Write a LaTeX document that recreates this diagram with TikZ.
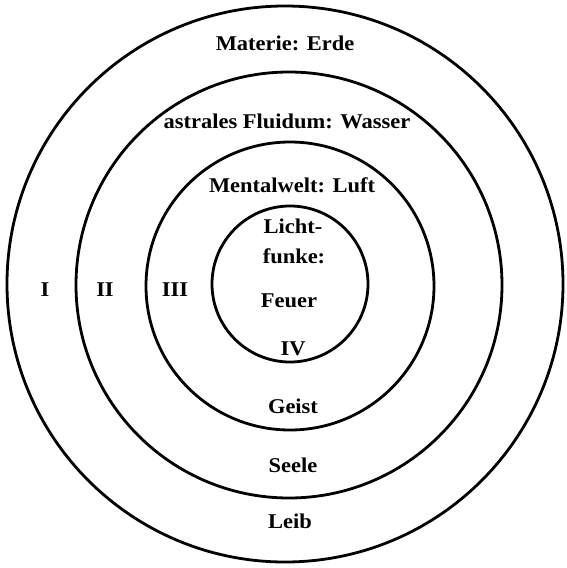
\documentclass[tikz,border=0pt]{standalone}
\usepackage{fontspec}
\setmainfont[FakeStretch=1.07]{Liberation Serif}
\begin{document}
\begin{tikzpicture}[x=1pt,y=-1pt,
  ring/.style={line width=2.8pt},
  lbl/.style={anchor=base,inner sep=0pt,font=\fontsize{21}{25}\selectfont\bfseries}]
\useasboundingbox (0,0) rectangle (567,568);
\draw[ring] (285,284) circle[radius=278];
\draw[ring] (289,285) circle[radius=213];
\draw[ring] (290,286) circle[radius=144];
\draw[ring] (290,284) circle[radius=78];
\node[lbl] (erde) at (285,50) {Materie: Erde};
\node[lbl] (wasser) at (287,128) {astrales Fluidum: Wasser};
\node[lbl] (luft) at (292,192) {Mentalwelt: Luft};
\node[lbl] (licht) at (293,233) {Licht-};
\node[lbl] (funke) at (294,263) {funke:};
\node[lbl] (feuer) at (289,307) {Feuer};
\node[lbl] (iv) at (293,355) {IV};
\node[lbl] (i) at (45,296) {I};
\node[lbl] (ii) at (105,296) {II};
\node[lbl] (iii) at (175,296) {III};
\node[lbl] (geist) at (293,413) {Geist};
\node[lbl] (seele) at (293,472) {Seele};
\node[lbl] (leib) at (290,528) {Leib};
\end{tikzpicture}
\end{document}
